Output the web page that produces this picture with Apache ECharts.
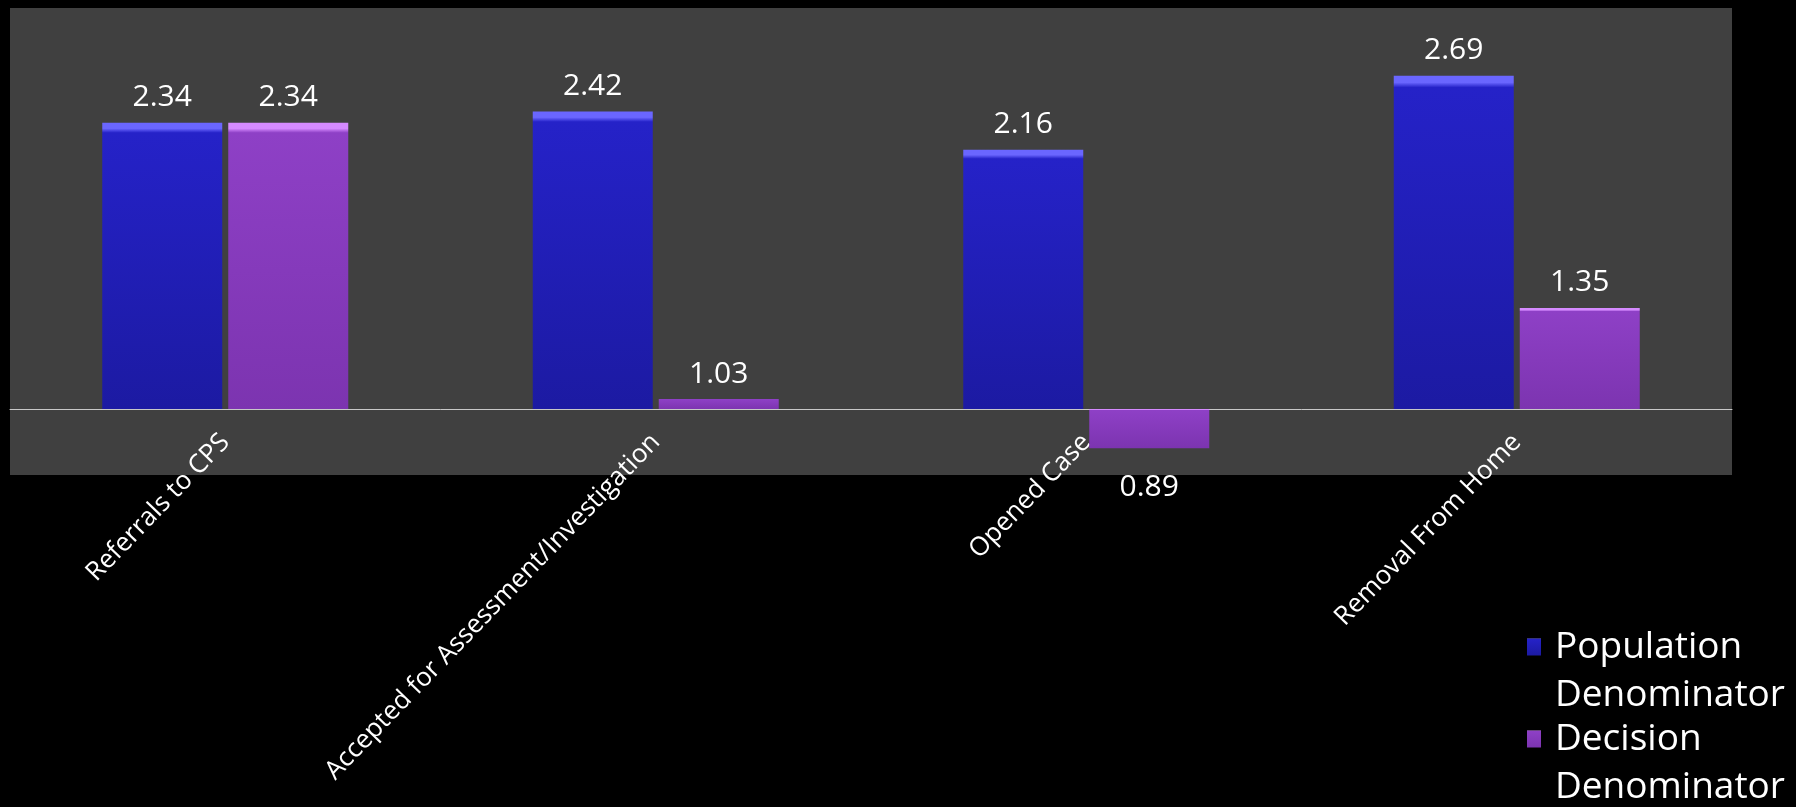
<!DOCTYPE html>
<html>
<head>
<meta charset="utf-8">
<script src="https://cdn.jsdelivr.net/npm/echarts@6/dist/echarts.min.js"></script>
<style>
html,body{margin:0;padding:0;background:#000;}
#chart{width:1796px;height:807px;}
</style>
</head>
<body>
<div id="chart"></div>
<script>
const categories = ['Referrals to CPS', 'Accepted for Assessment/Investigation', 'Opened Case', 'Removal From Home'];
const seriesNames = ['Population Denominator', 'Decision Denominator'];
const population = [2.34, 2.42, 2.16, 2.69];
const decision = [2.34, 1.03, 0.89, 1.35];
const baseValue = 1;

const FONT = '"Open Sans", "DejaVu Sans", sans-serif';

function grad(top, mid, bottom) {
  return new echarts.graphic.LinearGradient(0, 0, 0, 1, [
    {offset: 0, color: top},
    {offset: 0.02, color: top},
    {offset: 0.035, color: mid},
    {offset: 1, color: bottom}
  ]);
}

function items(values) {
  return values.map(v => ({
    value: v,
    label: {position: v < baseValue ? 'bottom' : 'top', distance: v < baseValue ? 24 : 10}
  }));
}

const labelStyle = {
  show: true,
  color: '#ffffff',
  fontFamily: FONT,
  fontSize: 30,
  formatter: p => p.value.toFixed(2)
};

function legendFor(name, top) {
  return {
    data: [name],
    left: 1527, top: top, padding: 0,
    icon: 'rect', itemWidth: 14, itemHeight: 17, itemGap: 0,
    formatter: n => '\n' + n.split(' ').map(w => '{t|' + w + '}').join('\n'),
    textStyle: {
      color: '#ffffff', fontFamily: FONT, fontSize: 37, lineHeight: 48,
      rich: {t: {color: '#ffffff', fontFamily: FONT, fontSize: 37, lineHeight: 48, padding: [0, 0, 0, 9]}}
    }
  };
}

const chart = echarts.init(document.getElementById('chart'), null, {renderer: 'canvas'});

const option = {
  backgroundColor: '#000000',
  animation: false,
  grid: {
    left: 10, right: 64, top: 8, bottom: 332,
    containLabel: false,
    outerBoundsMode: 'none',
    show: true, backgroundColor: '#404040', borderWidth: 0
  },
  legend: [legendFor(seriesNames[0], 575), legendFor(seriesNames[1], 667)],
  xAxis: {
    type: 'category',
    data: categories,
    position: 'bottom',
    offset: 0,
    axisLine: {show: true, onZero: false, lineStyle: {color: '#c8c8c8', width: 1}},
    axisTick: {show: false},
    axisLabel: {
      rotate: 46, margin: 29, interval: 0,
      color: '#ffffff', fontFamily: FONT, fontSize: 26
    }
  },
  yAxis: {
    type: 'log',
    logBase: 10,
    min: 0.822,
    max: 3.29,
    show: false,
    splitLine: {show: false}
  },
  series: [
    {
      name: seriesNames[0],
      type: 'bar',
      barWidth: 120,
      barGap: '5%',
      data: items(population),
      itemStyle: {color: grad('#6a66ff', '#2522c8', '#1c1aa2')},
      label: labelStyle
    },
    {
      name: seriesNames[1],
      type: 'bar',
      barWidth: 120,
      data: items(decision),
      itemStyle: {color: grad('#d58aff', '#8e40c6', '#7c34b0')},
      label: labelStyle
    }
  ]
};

chart.setOption(option);

// place the category axis line where the value axis crosses 1
for (let i = 0; i < 3; i++) {
  const yBase = chart.convertToPixel({yAxisIndex: 0}, baseValue);
  const rect = chart.getModel().getComponent('grid').coordinateSystem.getRect();
  chart.setOption({xAxis: {offset: Math.round(yBase - (rect.y + rect.height))}});
}
</script>
</body>
</html>
